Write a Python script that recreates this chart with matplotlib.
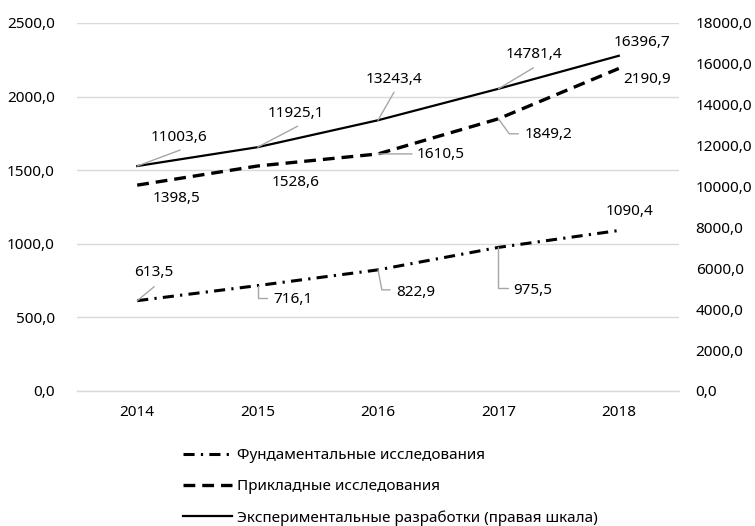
import matplotlib
matplotlib.use("Agg")
import matplotlib.pyplot as plt
from matplotlib.ticker import FuncFormatter, MultipleLocator

plt.rcParams['font.family'] = ['Noto Sans', 'DejaVu Sans']
plt.rcParams['font.size'] = 11
plt.rcParams['lines.scale_dashes'] = False

years = ['2014', '2015', '2016', '2017', '2018']
fundamental = [613.5, 716.1, 822.9, 975.5, 1090.4]
applied = [1398.5, 1528.6, 1610.5, 1849.2, 2190.9]
experimental = [11003.6, 11925.1, 13243.4, 14781.4, 16396.7]

names = ['Фундаментальные исследования',
         'Прикладные исследования',
         'Экспериментальные разработки (правая шкала)']

# label placement (pixel offsets): text offset, leader end offset, leader connection
fund_lbl = [((17, 28), (17, 14), None), ((35, -14), (9, -12), (0, 90)),
            ((38, -23), (12, -20), (0, 101)), ((34, -43), (10, -41), (0, 90)),
            ((11, 19), None, None)]
appl_lbl = [((39, -13), None, None), ((38, -17), None, None),
            ((63, -1), (34, 0), None), ((50, -16), (20, -15), (0, -54)),
            ((28, -11), None, None)]
exp_lbl = [((42, 29), (43, 16), None), ((38, 34), (40, 21), None),
           ((16, 41), (16, 28), None), ((36, 34), (35, 21), None),
           ((23, 13), None, None)]

fig = plt.figure(figsize=(7.55, 5.26), dpi=100)
ax = fig.add_axes([77/755, 1-391/526, (679-77)/755, (391-23)/526])
ax2 = ax.twinx()

x = list(range(len(years)))
grid_c = '#d9d9d9'
lead_c = '#a6a6a6'

l1, = ax.plot(x, fundamental, color='black', lw=2.2, dashes=(8, 4.5, 1.6, 4.5),
              solid_capstyle='butt', dash_capstyle='butt')
l2, = ax.plot(x, applied, color='black', lw=2.4, dashes=(8.5, 5), dash_capstyle='butt')
l3, = ax2.plot(x, experimental, color='black', lw=1.6)

ax.set_xlim(-0.5, len(years) - 0.5)
ax.set_ylim(0, 2500)
ax2.set_ylim(0, 18000)
ax.yaxis.set_major_locator(MultipleLocator(500))
ax2.yaxis.set_major_locator(MultipleLocator(2000))
fmt = FuncFormatter(lambda v, p: f"{v:.1f}".replace('.', ','))
ax.yaxis.set_major_formatter(fmt)
ax2.yaxis.set_major_formatter(fmt)
ax.set_xticks(x)
ax.set_xticklabels(years)

ax.grid(axis='y', color=grid_c, lw=1)
ax.set_axisbelow(True)
for a in (ax, ax2):
    for s in ('top', 'left', 'right', 'bottom'):
        a.spines[s].set_visible(False)
ax.spines['bottom'].set_visible(True)
ax.spines['bottom'].set_color(grid_c)
ax.spines['bottom'].set_linewidth(1)
ax.tick_params(axis='y', length=0, pad=16, labelsize=11)
ax.tick_params(axis='x', length=0, pad=10, labelsize=11)
ax2.tick_params(axis='y', length=0, pad=12, labelsize=11)


def label(axis, xs, vals, specs):
    for xi, v, (toff, loff, conn) in zip(xs, vals, specs):
        txt = f"{v:.1f}".replace('.', ',')
        axis.annotate(txt, xy=(xi, v), xytext=toff, textcoords='offset pixels',
                      ha='center', va='center', fontsize=11)
        if loff is not None:
            cs = 'arc3' if conn is None else f'angle,angleA={conn[0]},angleB={conn[1]},rad=0'
            axis.annotate('', xy=(xi, v), xytext=loff, textcoords='offset pixels',
                          arrowprops=dict(arrowstyle='-', color=lead_c, lw=1,
                                          shrinkA=0, shrinkB=0, connectionstyle=cs))


label(ax, x, fundamental, fund_lbl)
label(ax, x, applied, appl_lbl)
label(ax2, x, experimental, exp_lbl)

fig.legend([l1, l2, l3], names, loc='upper left',
           bbox_to_anchor=(183/755, 1-448/526), frameon=False,
           borderpad=0, borderaxespad=0, handlelength=3.2, handletextpad=0.35,
           labelspacing=1.05, fontsize=11)

fig.savefig('out.png', dpi=100)
